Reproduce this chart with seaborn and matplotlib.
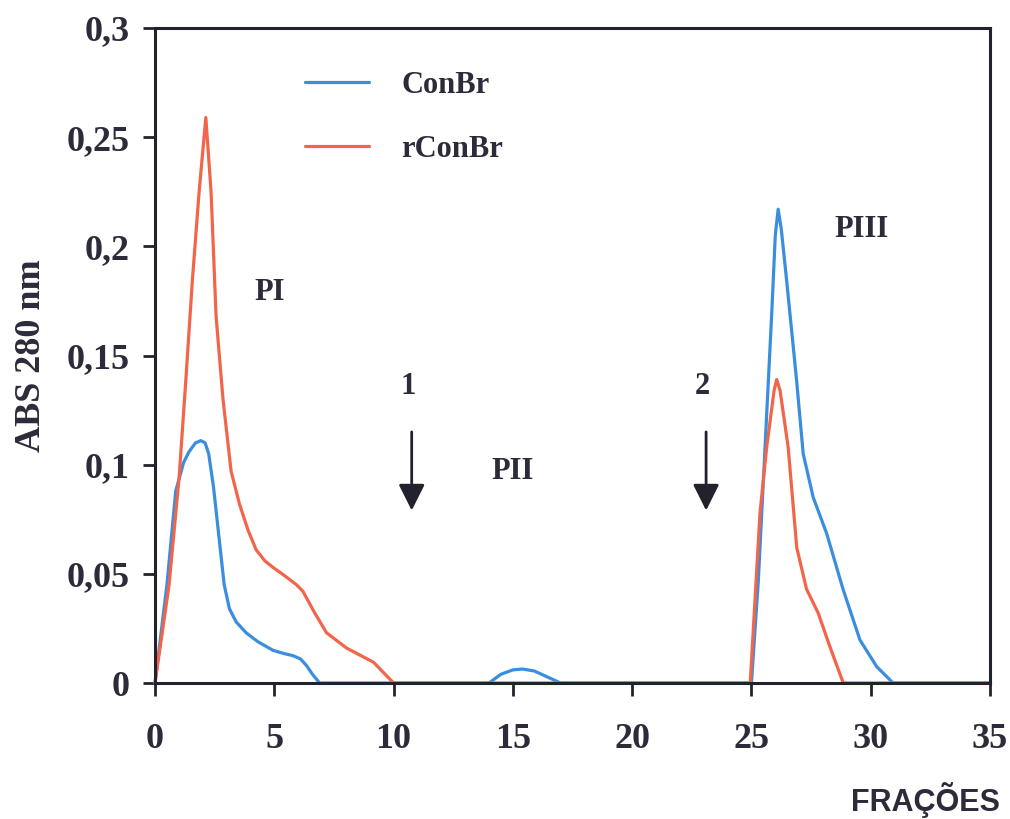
import matplotlib
matplotlib.use("Agg")
import matplotlib.pyplot as plt
import seaborn as sns
import pandas as pd

# ---- data ----
conbr_x = [0, 0.5, 0.87, 1.2, 1.43, 1.7, 1.92, 2.1, 2.25, 2.45, 2.7, 2.9, 3.12, 3.4, 3.82,
           4.3, 4.94, 5.4, 5.79, 6.1, 6.35, 6.6, 6.9, 10, 14, 14.5, 15, 15.4, 15.9,
           16.4, 17, 25, 25.29, 25.57, 25.85, 26.0, 26.12, 26.25, 26.47, 26.89, 27.17,
           27.59, 28.15, 28.85, 29.55, 30.25, 30.94, 35]
conbr_y = [0, 0.045, 0.088, 0.101, 0.106, 0.110, 0.111, 0.110, 0.105, 0.09, 0.065,
           0.045, 0.034, 0.028, 0.023, 0.019, 0.015, 0.0135, 0.0125, 0.011, 0.008,
           0.004, 0, 0, 0, 0.004, 0.006, 0.0064, 0.0055, 0.003, 0, 0, 0.047, 0.108,
           0.169, 0.205, 0.217, 0.208, 0.185, 0.139, 0.105, 0.085, 0.0686, 0.0426,
           0.0197, 0.0075, 0, 0]

rconbr_x = [0, 0.59, 1.01, 1.3, 1.57, 1.85, 2.13, 2.35, 2.56, 2.85, 3.19, 3.54, 3.9,
            4.24, 4.6, 4.94, 5.45, 5.93, 6.2, 6.7, 7.19, 8.03, 9.16, 10, 24.95,
            25.36, 25.64, 25.95, 26.06, 26.2, 26.54, 26.9, 27.31, 27.8, 28.29, 28.85, 35]
rconbr_y = [0, 0.045, 0.094, 0.14, 0.185, 0.225, 0.259, 0.225, 0.168, 0.13, 0.097,
            0.082, 0.07, 0.061, 0.056, 0.053, 0.049, 0.045, 0.042, 0.032, 0.023,
            0.016, 0.0095, 0, 0, 0.078, 0.108, 0.134, 0.139, 0.134, 0.108, 0.062,
            0.043, 0.032, 0.0166, 0, 0]

series_names = ["ConBr", "rConBr"]
series_colors = ["#3b8ede", "#f2654b"]

x_ticks = [0, 5, 10, 15, 20, 25, 30, 35]
y_ticks = [0, 0.05, 0.1, 0.15, 0.2, 0.25, 0.3]
y_tick_labels = ["0", "0,05", "0,1", "0,15", "0,2", "0,25", "0,3"]

peak_labels = ["PI", "PII", "PIII"]
peak_pos = [(4.8, 0.179), (15.0, 0.097), (29.6, 0.2075)]
arrow_labels = ["1", "2"]
arrow_x = [10.76, 23.1]

# ---- build frame ----
df = pd.concat([
    pd.DataFrame({"x": conbr_x, "y": conbr_y, "s": series_names[0]}),
    pd.DataFrame({"x": rconbr_x, "y": rconbr_y, "s": series_names[1]}),
], ignore_index=True)

sns.set_theme(style="white")
serif = "Liberation Serif"
txt_col = "#2b2b3a"

fig = plt.figure(figsize=(10.1, 8.19), dpi=100)
fig.patch.set_facecolor("white")
ax = fig.add_axes([155/1010, 1-683/819, (990-155)/1010, (683-28)/819])

sns.lineplot(data=df, x="x", y="y", hue="s", hue_order=series_names,
             palette=series_colors, estimator=None, sort=False, lw=2.3, ax=ax)
for ln in ax.lines:
    ln.set_clip_on(False)
    ln.set_solid_joinstyle("round")

ax.set_xlim(0, 35)
ax.set_ylim(0, 0.3)
ax.set_xticks(x_ticks)
ax.set_xticklabels([str(t) for t in x_ticks])
ax.set_yticks(y_ticks)
ax.set_yticklabels(y_tick_labels)
ax.set_xlabel("")
ax.set_ylabel("ABS 280 nm", fontsize=26, fontfamily=serif, fontweight="bold",
              color=txt_col)
ax.yaxis.set_label_coords(-0.148, 0.5)
ax.yaxis.label.set_va("center")

for sp in ax.spines.values():
    sp.set_visible(True)
    sp.set_color("#22222e")
    sp.set_linewidth(2.2)

ax.tick_params(axis="x", direction="out", length=9, width=2, color="#22222e",
               pad=20, labelsize=26, labelcolor=txt_col, bottom=True)
ax.tick_params(axis="y", direction="out", length=8.5, width=2, color="#22222e",
               pad=10, labelsize=26, labelcolor=txt_col, left=True)
for lab in ax.get_xticklabels() + ax.get_yticklabels():
    lab.set_fontfamily(serif)
    lab.set_fontweight("bold")

leg = ax.legend(loc="upper left", bbox_to_anchor=(0.18, 0.935), frameon=False,
                handlelength=2.1, handletextpad=1.05, labelspacing=1.15,
                borderpad=0, borderaxespad=0,
                prop={"family": serif, "weight": "bold", "size": 22})
for t in leg.get_texts():
    t.set_color(txt_col)
for h in leg.get_lines():
    h.set_linewidth(2.3)

for lab, (px, py) in zip(peak_labels, peak_pos):
    ax.text(px, py, lab, fontsize=22, fontfamily=serif, fontweight="bold",
            color=txt_col, ha="center", va="center")

for lab, axv in zip(arrow_labels, arrow_x):
    ax.annotate("", xy=(axv, 0.079), xytext=(axv, 0.115),
                arrowprops=dict(arrowstyle="-|>,head_length=1.6,head_width=0.8",
                                color="#22222e", lw=2, shrinkA=0, shrinkB=0,
                                mutation_scale=10))
    ax.text(axv - 0.15, 0.1356, lab, fontsize=22, fontfamily=serif,
            fontweight="bold", color=txt_col, ha="center", va="center")

fig.text(1000/1010, 1-800/819, "FRAÇÕES", fontsize=22, fontfamily="Liberation Sans",
         fontweight="bold", color=txt_col, ha="right", va="center")

fig.savefig("out.png", dpi=100, facecolor="white")
